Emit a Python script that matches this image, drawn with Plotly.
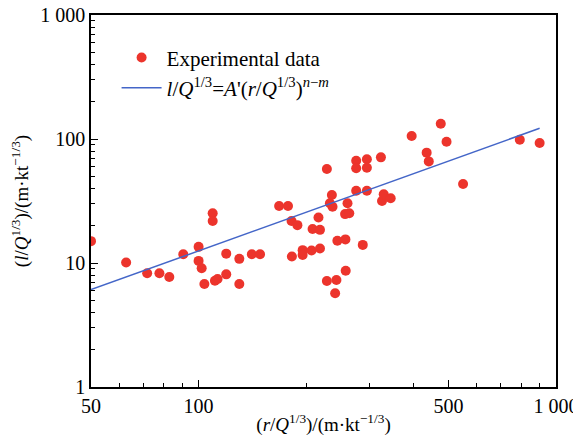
import plotly.graph_objects as go

# Experimental data (scaled distance r/Q^1/3, scaled length l/Q^1/3)
exp_x = [50, 62.7, 71.8, 77.7, 82.8, 90.6, 100, 100, 102, 103.8, 109.5, 109.5, 111.1, 113,
         119.5, 119.5, 130, 130, 140.9, 148.6, 168, 177.9, 182, 189, 182.4, 195.5, 195.5,
         207, 208.4, 216.5, 218.6, 218.6, 228.5, 228.5, 233, 236, 237, 241, 243, 244.5,
         257, 257.5, 258, 261, 264, 276, 276, 276, 288, 295.7, 295.7, 295.7, 323.7, 326,
         329.6, 344.7, 394.6, 434.6, 440.6, 476, 494, 549.5, 792, 900]
exp_y = [15.0, 10.1, 8.26, 8.26, 7.71, 11.75, 13.5, 10.4, 9.06, 6.77, 25.2, 21.8, 7.2, 7.43,
         11.9, 8.1, 10.8, 6.77, 11.75, 11.75, 28.8, 28.8, 21.8, 20.2, 11.3, 12.7, 11.6,
         12.6, 18.8, 23.3, 18.5, 13.1, 57.3, 7.16, 30.3, 35.3, 28.4, 5.7, 7.29, 15.1,
         24.8, 15.5, 8.67, 30.3, 25.2, 66.8, 58.0, 38.3, 14.0, 68.6, 58.7, 38.3, 71.1, 31.6,
         35.8, 33.3, 105.7, 77.6, 66.0, 132.8, 95.1, 43.4, 98.7, 92.9]

# Fitted power law line end points
fit_x = [50, 900]
fit_y = [6.1, 122]

x_tickvals = [50, 100, 500, 1000]
x_ticktext = ["50", "100", "500", "1 000"]
x_minor = [60, 70, 80, 90, 200, 300, 400, 600, 700, 800, 900]
y_tickvals = [1, 10, 100, 1000]
y_ticktext = ["1", "10", "100", "1 000"]
y_minor = [m * d for d in (1, 10, 100) for m in range(2, 10)]

font_family = "Liberation Serif, Times New Roman, serif"

fig = go.Figure()
fig.add_trace(go.Scatter(
    x=exp_x, y=exp_y, mode="markers", name="Experimental data",
    marker=dict(color="rgb(236,52,44)", size=10, line=dict(width=0)),
))
fig.add_trace(go.Scatter(
    x=fit_x, y=fit_y, mode="lines",
    name="<i>l</i>/<i>Q</i><sup>1/3</sup>=<i>A</i>'(<i>r</i>/<i>Q</i><sup>1/3</sup>)<sup><i>n</i>−<i>m</i></sup>",
    line=dict(color="rgb(68,102,200)", width=1.5),
))

axis_common = dict(
    type="log", showgrid=False, zeroline=False, showline=True, linecolor="black",
    linewidth=1.5, mirror=True, ticks="inside", ticklen=7, tickwidth=1.2,
    tickcolor="black", tickfont=dict(family=font_family, size=20, color="black"),
    automargin=False, ticklabeloverflow="allow",
)

fig.update_xaxes(
    **axis_common, range=[1.69897, 3], tickmode="array",
    tickvals=x_tickvals, ticktext=x_ticktext,
    minor=dict(tickmode="array", tickvals=x_minor, ticks="inside", ticklen=4,
               tickcolor="black", tickwidth=1),
    title=dict(text="(<i>r</i>/<i>Q</i><sup>1/3</sup>)/(m·kt<sup>−1/3</sup>)",
               font=dict(family=font_family, size=19, color="black"), standoff=2),
)
fig.update_yaxes(
    **axis_common, range=[0, 3], tickmode="array",
    tickvals=y_tickvals, ticktext=y_ticktext,
    minor=dict(tickmode="array", tickvals=y_minor, ticks="inside", ticklen=4,
               tickcolor="black", tickwidth=1),
    title=dict(text="(<i>l</i>/<i>Q</i><sup>1/3</sup>)/(m·kt<sup>−1/3</sup>)",
               font=dict(family=font_family, size=19, color="black"), standoff=20),
)

fig.update_layout(
    width=573, height=433,
    margin=dict(l=83, r=25, t=7, b=54),
    plot_bgcolor="white", paper_bgcolor="white",
    font=dict(family=font_family, size=20, color="black"),
    showlegend=True,
    legend=dict(x=0.055, y=0.94, xanchor="left", yanchor="top",
                bgcolor="rgba(0,0,0,0)", font=dict(family=font_family, size=21),
                tracegroupgap=0, itemwidth=40),
)

fig.write_html("out.html")
